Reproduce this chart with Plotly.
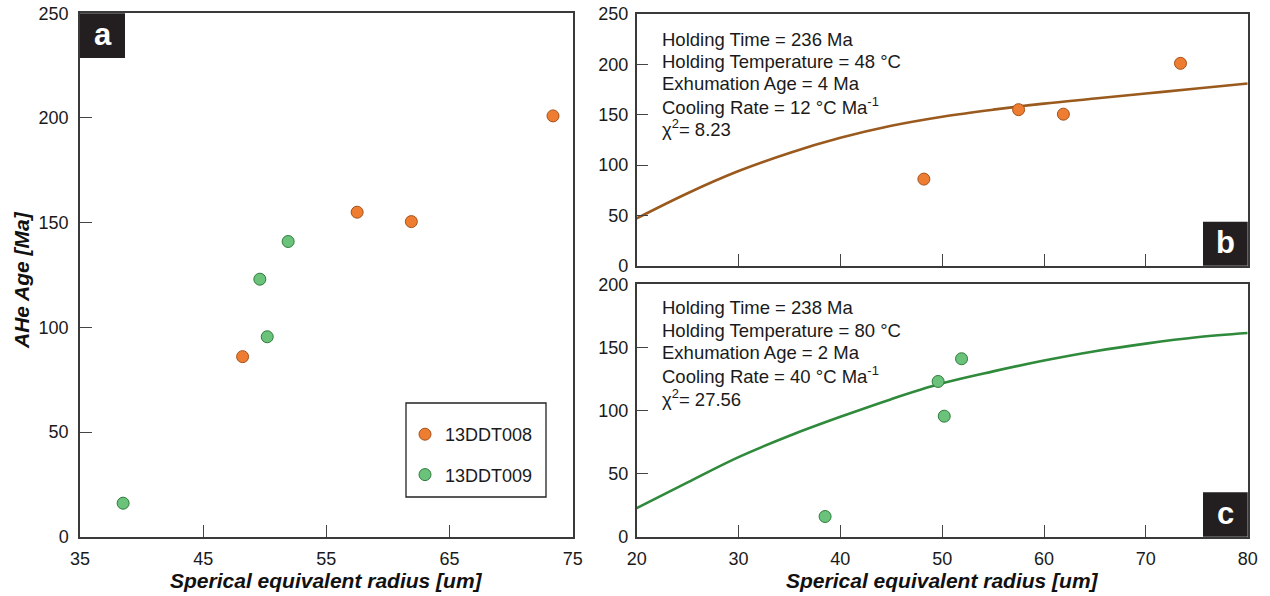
import plotly.graph_objects as go

# --- measured apatite (U-Th)/He ages vs spherical equivalent radius ---
ddt008_radius = [48.2, 57.5, 61.9, 73.4]
ddt008_age = [86, 155, 150.5, 201]
ddt009_radius = [38.5, 49.6, 50.2, 51.9]
ddt009_age = [16, 123, 95.5, 141]

# --- modelled age-radius curves ---
fit_b_radius = [20, 25, 30, 35, 40, 45, 50, 55, 60, 65, 70, 75, 80]
fit_b_age = [47, 72, 94, 112, 127, 139, 148, 155, 161, 166, 171, 176, 181]
fit_c_radius = [20, 25, 30, 35, 40, 45, 50, 55, 60, 65, 70, 75, 80]
fit_c_age = [22.6, 43, 63, 80, 95, 109, 121.5, 131, 139.6, 147, 153, 158, 161.4]

# --- model parameter text blocks ---
params_b = ["Holding Time = 236 Ma", "Holding Temperature = 48 °C",
            "Exhumation Age = 4 Ma", "Cooling Rate = 12 °C Ma<sup>-1</sup>",
            "χ<sup>2</sup>= 8.23"]
params_c = ["Holding Time = 238 Ma", "Holding Temperature = 80 °C",
            "Exhumation Age = 2 Ma", "Cooling Rate = 40 °C Ma<sup>-1</sup>",
            "χ<sup>2</sup>= 27.56"]

xticks_a = [35, 45, 55, 65, 75]
yticks_a = [0, 50, 100, 150, 200, 250]
xticks_bc = [20, 30, 40, 50, 60, 70, 80]
yticks_b = [0, 50, 100, 150, 200, 250]
yticks_c = [0, 50, 100, 150, 200]

W, H = 1270, 596
FONT = "Liberation Sans, Arial, sans-serif"
ORANGE, ORANGE_EDGE = "#EE7D31", "#A4521B"
GREEN, GREEN_EDGE = "#6BC27A", "#2E7B3B"
BROWN_LINE, GREEN_LINE = "#9A5A1E", "#2F8A3B"


def px(x):
    return x / W


def py(y):
    return 1 - y / H


fig = go.Figure()

marker_o = dict(size=12, color=ORANGE, line=dict(color=ORANGE_EDGE, width=1))
marker_g = dict(size=12, color=GREEN, line=dict(color=GREEN_EDGE, width=1))

# panel a
fig.add_trace(go.Scatter(x=ddt008_radius, y=ddt008_age, mode="markers",
                         marker=marker_o, name="13DDT008", legendgroup="g1",
                         xaxis="x", yaxis="y"))
fig.add_trace(go.Scatter(x=ddt009_radius, y=ddt009_age, mode="markers",
                         marker=marker_g, name="13DDT009", legendgroup="g2",
                         xaxis="x", yaxis="y"))
# panel b
fig.add_trace(go.Scatter(x=fit_b_radius, y=fit_b_age, mode="lines",
                         line=dict(color=BROWN_LINE, width=2.6, shape="spline"),
                         showlegend=False, xaxis="x2", yaxis="y2"))
fig.add_trace(go.Scatter(x=ddt008_radius, y=ddt008_age, mode="markers",
                         marker=marker_o, showlegend=False, xaxis="x2", yaxis="y2"))
# panel c
fig.add_trace(go.Scatter(x=fit_c_radius, y=fit_c_age, mode="lines",
                         line=dict(color=GREEN_LINE, width=2.6, shape="spline"),
                         showlegend=False, xaxis="x3", yaxis="y3"))
fig.add_trace(go.Scatter(x=ddt009_radius, y=ddt009_age, mode="markers",
                         marker=marker_g, showlegend=False, xaxis="x3", yaxis="y3"))

axis_common = dict(showgrid=False, zeroline=False, showline=True, mirror=True,
                   automargin=False,
                   linecolor="#3a3a3a", linewidth=1.5, ticks="inside", ticklen=12,
                   tickwidth=1.3, tickcolor="#444444",
                   tickfont=dict(family=FONT, size=18, color="#1a1a1a"))

fig.update_layout(
    width=W, height=H, margin=dict(l=0, r=0, t=0, b=0),
    paper_bgcolor="white", plot_bgcolor="white", showlegend=True,
    xaxis=dict(domain=[px(80), px(572.7)], range=[35, 75], tickvals=xticks_a,
               anchor="y", ticklabelstandoff=5, **axis_common),
    yaxis=dict(domain=[py(536.7), py(13.3)], range=[0, 250], tickvals=yticks_a,
               anchor="x", ticklabelstandoff=6, **axis_common),
    xaxis2=dict(domain=[px(636.7), px(1247.7)], range=[20, 80], tickvals=xticks_bc,
                anchor="y2", showticklabels=False, **axis_common),
    yaxis2=dict(domain=[py(265.7), py(14)], range=[0, 250], tickvals=yticks_b,
                anchor="x2", ticklabelstandoff=3, **axis_common),
    xaxis3=dict(domain=[px(636.7), px(1247.7)], range=[20, 80], tickvals=xticks_bc,
                anchor="y3", ticklabelstandoff=5, **axis_common),
    yaxis3=dict(domain=[py(536.7), py(284.3)], range=[0, 200], tickvals=yticks_c,
                anchor="x3", ticklabelstandoff=3, **axis_common),
    legend=dict(x=px(405), y=py(416), xanchor="left", yanchor="top",
                bgcolor="rgba(0,0,0,0)", borderwidth=0, traceorder="grouped",
                tracegroupgap=14, font=dict(family=FONT, size=18, color="#1a1a1a")),
)

shapes = [
    # legend frame
    dict(type="rect", xref="paper", yref="paper", x0=px(406), x1=px(546),
         y0=py(497), y1=py(403), line=dict(color="#222222", width=1.3)),
]
# dark panel badges
badges = [("a", 80, 125, 13.3, 58), ("b", 1203, 1247.7, 221.7, 265.7),
          ("c", 1203, 1247.7, 492.3, 536.7)]
annotations = []
for letter, x0, x1, y0, y1 in badges:
    shapes.append(dict(type="rect", xref="paper", yref="paper", x0=px(x0), x1=px(x1),
                       y0=py(y1), y1=py(y0), fillcolor="#231F20",
                       line=dict(width=0), layer="above"))
    annotations.append(dict(text=f"<b>{letter}</b>", xref="paper", yref="paper",
                            x=px((x0 + x1) / 2), y=py((y0 + y1) / 2 - 1),
                            xanchor="center", yanchor="middle", showarrow=False,
                            font=dict(family=FONT, size=31, color="white")))

# parameter text blocks
line_y_b = [39.5, 61.5, 83.5, 106, 128]
line_y_c = [307.5, 330, 352.5, 375, 397.5]
for lines, ys in ((params_b, line_y_b), (params_c, line_y_c)):
    for txt, yy in zip(lines, ys):
        annotations.append(dict(text=txt, xref="paper", yref="paper", x=px(660),
                                y=py(yy), xanchor="left", yanchor="middle",
                                showarrow=False,
                                font=dict(family=FONT, size=18.5, color="#1a1a1a")))

# axis titles
title_font = dict(family=FONT, size=21, color="#111111")
annotations.append(dict(text="<b><i>Sperical equivalent radius [um]</i></b>",
                        xref="paper", yref="paper", x=px(326.4), y=py(580),
                        xanchor="center", yanchor="middle", showarrow=False,
                        font=title_font))
annotations.append(dict(text="<b><i>Sperical equivalent radius [um]</i></b>",
                        xref="paper", yref="paper", x=px(942.2), y=py(580),
                        xanchor="center", yanchor="middle", showarrow=False,
                        font=title_font))
annotations.append(dict(text="<b><i>AHe Age [Ma]</i></b>", xref="paper", yref="paper",
                        x=px(21), y=py(280), xanchor="center", yanchor="middle",
                        textangle=-90, showarrow=False, font=title_font))

fig.update_layout(shapes=shapes, annotations=annotations)
fig.write_html("out.html")
